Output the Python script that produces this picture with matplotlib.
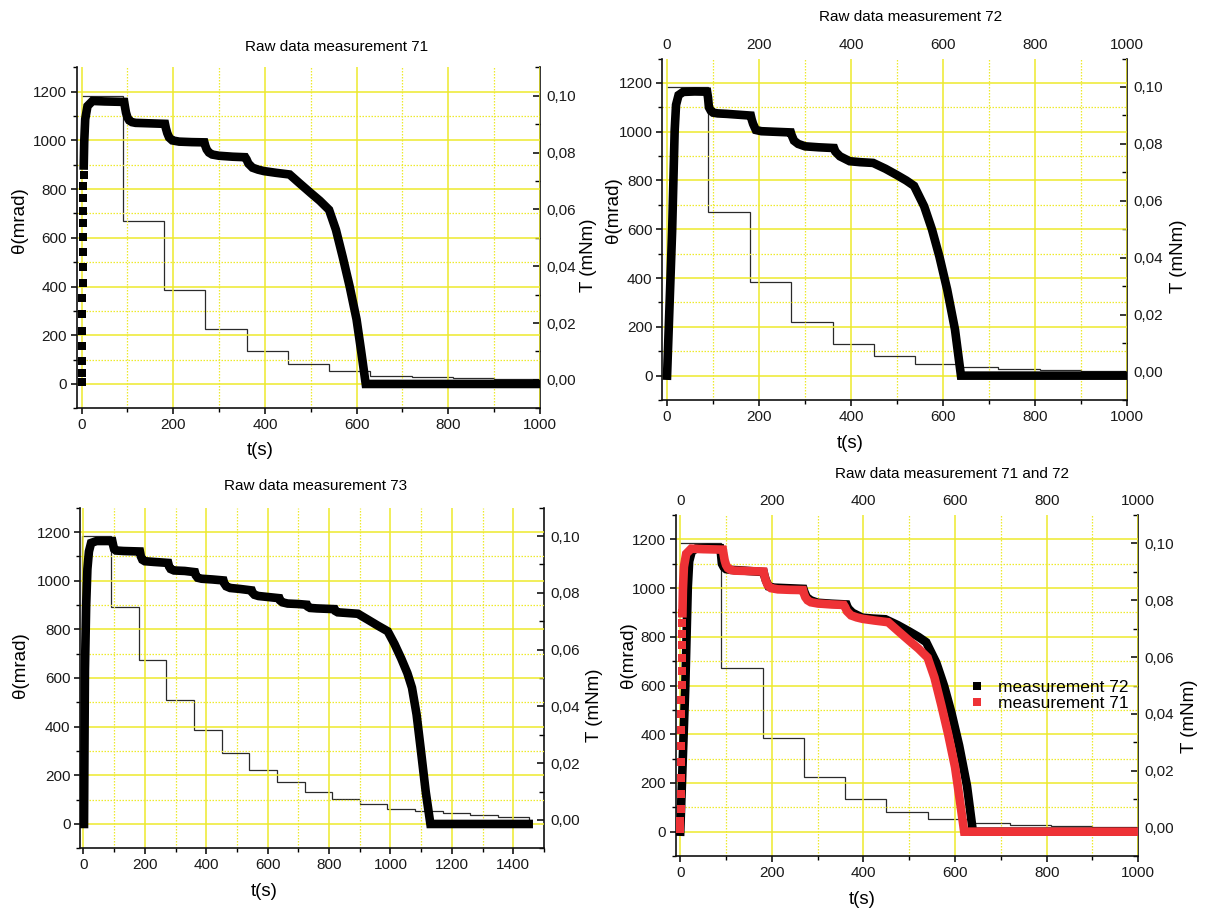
import matplotlib
matplotlib.use("Agg")
import matplotlib.pyplot as plt
from matplotlib.ticker import MultipleLocator, FuncFormatter, NullLocator, FixedLocator
from matplotlib.lines import Line2D

plt.rcParams["font.family"] = ["Liberation Sans", "DejaVu Sans"]

# ---------------- data ----------------
# measurement 71: time (s) and angle (mrad); first 17 samples are the fast rise
t71 = [0.0, 0.3, 0.6, 0.9, 1.2, 1.5, 1.8, 2.1, 2.4, 2.7, 3.0, 3.3, 3.6, 3.9, 4.2, 4.5, 4.8,
       5.8, 8, 13, 24, 50, 93, 95, 97, 100, 104, 110, 118, 150, 182, 184, 187, 191, 198, 213,
       240, 268, 270, 273, 278, 285, 300, 330, 357, 360, 364, 373, 385, 398, 424, 454, 475,
       500, 520, 540, 555, 570, 585, 600, 610, 620, 1000]
theta71 = [10, 44, 95, 154, 219, 287, 352, 416, 482, 542, 604, 660, 712, 765, 811, 858, 897,
           991, 1087, 1141, 1162, 1160, 1158, 1135, 1114, 1095, 1082, 1075, 1072, 1070, 1068,
           1050, 1030, 1012, 1000, 995, 993, 992, 978, 963, 950, 942, 937, 933, 931, 922, 905,
           888, 880, 874, 867, 860, 825, 784, 752, 715, 633, 520, 400, 265, 135, 0, 0]
RISE71 = 17

# measurement 72
t72 = [0, 11, 16.5, 19.5, 25, 35, 60, 87, 89, 91, 95, 100, 110, 130, 182, 184, 187, 193,
       205, 230, 269, 271, 276, 285, 300, 330, 363, 366, 376, 397, 420, 448, 475, 499, 520,
       537, 559, 576, 592, 609, 626, 639, 1000]
theta72 = [0, 593, 1004, 1110, 1150, 1163, 1165, 1164, 1140, 1100, 1086, 1078, 1075, 1073,
           1066, 1050, 1032, 1007, 1002, 1000, 997, 985, 963, 950, 940, 936, 933, 918, 899,
           879, 875, 872, 848, 823, 800, 778, 694, 599, 489, 353, 189, 0, 0]

# measurement 73
t73 = [2, 3.5, 5, 9, 13, 18, 25, 43, 94, 97, 100, 106, 130, 184, 187, 192, 200, 230, 276,
       279, 284, 295, 330, 363, 366, 372, 385, 420, 456, 459, 465, 478, 510, 548, 551, 557,
       570, 600, 638, 641, 648, 665, 700, 728, 731, 738, 760, 818, 821, 828, 850, 894, 926,
       959, 991, 1013, 1035, 1055, 1070, 1085, 1100, 1115, 1130, 1450]
theta73 = [0, 330, 633, 900, 1048, 1120, 1155, 1163, 1163, 1145, 1130, 1124, 1122, 1120,
           1100, 1086, 1080, 1077, 1073, 1058, 1048, 1042, 1040, 1035, 1022, 1012, 1008, 1005,
           1001, 988, 977, 970, 966, 960, 950, 942, 937, 933, 928, 918, 911, 906, 904, 901,
           893, 888, 886, 883, 875, 870, 868, 864, 840, 815, 792, 740, 680, 620, 560, 450,
           292, 130, 0, 0]

# applied torque (mNm): step edges (s) and levels
torque_edges_71 = [0, 90, 180, 270, 360, 450, 540, 630, 720, 810, 900, 1000]
torque_71 = [0.100, 0.056, 0.0316, 0.0178, 0.0100, 0.0056, 0.0030, 0.0015, 0.0009,
             0.0005, 0.0003]
torque_edges_72 = [0, 90, 180, 270, 360, 450, 540, 630, 720, 810, 900, 1000]
torque_72 = [0.100, 0.056, 0.0313, 0.0174, 0.0098, 0.0054, 0.0028, 0.0015, 0.0008,
             0.0004, 0.0002]
torque_edges_73 = [-4, 90, 180, 270, 360, 450, 540, 630, 720, 810, 900, 990, 1080, 1170,
                   1260, 1350, 1450]
torque_73 = [0.100, 0.075, 0.0562, 0.0421, 0.0316, 0.0236, 0.0176, 0.0133, 0.0099, 0.0073,
             0.0056, 0.0040, 0.0031, 0.0024, 0.0018, 0.0012]

titles = ["Raw data measurement 71", "Raw data measurement 72",
          "Raw data measurement 73", "Raw data measurement 71 and 72"]
legend_labels = ["measurement 72", "measurement 71"]

# ---------------- style ----------------
GRID = "#EEEA2C"
TEXT = "#1a1a1a"
RED = "#EE3236"
TICK_FS = 11
LABEL_FS = 13.5
TITLE_FS = 11
LEGEND_FS = 12.5
CURVE_LW = 6.2

fig = plt.figure(figsize=(12.1, 9.1), dpi=100)


def panel(rect, xmax, title_pos, ylab_pos, tlab_pos, xlab_pos, title, top_labels=False):
    ax = fig.add_axes(rect)
    axT = ax.twinx()
    ax.set_zorder(2)
    axT.set_zorder(1)
    ax.patch.set_visible(False)

    ax.set_xlim(-10, xmax)
    ax.set_ylim(-100, 1300)
    axT.set_ylim(-0.01, 0.11)

    # grid drawn from the angle axis
    for v in range(0, xmax + 1, 200):
        ax.axvline(v, color=GRID, lw=1.1, zorder=0)
    for v in range(100, xmax, 200):
        ax.axvline(v, color=GRID, lw=0.9, ls=(0, (1.2, 1.2)), zorder=0)
    for v in range(0, 1201, 200):
        ax.axhline(v, color=GRID, lw=1.1, zorder=0)
    for v in range(100, 1200, 200):
        ax.axhline(v, color=GRID, lw=0.9, ls=(0, (1.2, 1.2)), zorder=0)

    xmajor = list(range(0, xmax + 1, 200))
    ax.xaxis.set_major_locator(FixedLocator(xmajor))
    ax.xaxis.set_minor_locator(MultipleLocator(100))
    ax.set_yticks(range(0, 1201, 200))
    ax.yaxis.set_minor_locator(MultipleLocator(100))
    axT.set_yticks([0, 0.02, 0.04, 0.06, 0.08, 0.10])
    axT.yaxis.set_minor_locator(MultipleLocator(0.01))
    axT.yaxis.set_major_formatter(FuncFormatter(lambda v, p: f"{v:.2f}".replace(".", ",")))

    for s in ("top", "right"):
        ax.spines[s].set_visible(False)
    for s in ("top", "bottom", "left"):
        axT.spines[s].set_visible(False)
    for sp in (ax.spines["left"], ax.spines["bottom"], axT.spines["right"]):
        sp.set_linewidth(1.2)
        sp.set_color("#111111")

    ax.tick_params(axis="both", which="major", direction="out", length=4.5, width=1.1,
                   labelsize=TICK_FS, labelcolor=TEXT, pad=2.6, right=False, top=False)
    ax.tick_params(axis="both", which="minor", direction="out", length=3, width=1.0,
                   right=False, top=False)
    axT.tick_params(axis="y", which="major", direction="in", length=5.2, width=1.1,
                    labelsize=TICK_FS, labelcolor=TEXT, pad=4.6)
    axT.tick_params(axis="y", which="minor", direction="in", length=3.4, width=1.0)

    if top_labels:
        top = ax.secondary_xaxis("top")
        for sp in top.spines.values():
            sp.set_visible(False)
        top.xaxis.set_major_locator(FixedLocator(xmajor))
        top.xaxis.set_minor_locator(NullLocator())
        top.tick_params(axis="x", length=0, labelsize=TICK_FS, labelcolor=TEXT, pad=5.0)

    ax.set_ylabel("θ(mrad)", fontsize=LABEL_FS)
    ax.yaxis.set_label_coords(*ylab_pos)
    ax.yaxis.label.set_va("center")
    ax.set_xlabel("t(s)", fontsize=LABEL_FS)
    ax.xaxis.set_label_coords(*xlab_pos)
    ax.xaxis.label.set_va("center")
    axT.set_ylabel("T (mNm)", fontsize=LABEL_FS)
    axT.yaxis.set_label_coords(*tlab_pos)
    axT.yaxis.label.set_va("center")
    ax.text(*title_pos, title, transform=ax.transAxes, ha="center", va="center",
            fontsize=TITLE_FS)
    return ax, axT


def curve(ax, t, th, color, rise=0):
    if rise:
        ax.plot(t[:rise], th[:rise], ls="none", marker="s", ms=5.8, mew=0, color=color,
                zorder=3)
        t, th = t[rise - 1:], th[rise - 1:]
    ax.plot(t, th, color=color, lw=CURVE_LW, solid_joinstyle="miter",
            solid_capstyle="projecting", zorder=3)


def torque(axT, edges, values, baseline=None):
    axT.stairs(values, edges, baseline=baseline, color="#2a2a2a", lw=0.9)


# top-left: measurement 71
ax1, ax1T = panel([0.0636, 0.5513, 0.3826, 0.3747], 1000, (0.5616, 1.060),
                  (-0.125, 0.552), (1.106, 0.45), (0.396, -0.124), titles[0])
torque(ax1T, torque_edges_71, torque_71)
curve(ax1, t71, theta71, "black", rise=RISE71)

# top-right: measurement 72
ax2, ax2T = panel([0.5475, 0.5604, 0.3839, 0.3753], 1000, (0.535, 1.1206),
                  (-0.105, 0.556), (1.11, 0.42), (0.404, -0.126), titles[1],
                  top_labels=True)
torque(ax2T, torque_edges_72, torque_72)
curve(ax2, t72, theta72, "black")

# bottom-left: measurement 73
ax3, ax3T = panel([0.0664, 0.0678, 0.3832, 0.3743], 1500, (0.508, 1.0637),
                  (-0.128, 0.538), (1.108, 0.42), (0.396, -0.127), titles[2])
torque(ax3T, torque_edges_73, torque_73, baseline=0)
curve(ax3, t73, theta73, "black")

# bottom-right: measurements 71 and 72 together
ax4, ax4T = panel([0.5584, 0.0593, 0.3823, 0.3747], 1000, (0.597, 1.120),
                  (-0.101, 0.589), (1.11, 0.41), (0.404, -0.126), titles[3],
                  top_labels=True)
torque(ax4T, torque_edges_71, torque_71)
curve(ax4, t72, theta72, "black")
curve(ax4, t71, theta71, RED, rise=RISE71)
handles = [Line2D([], [], ls="none", marker="s", ms=5.8, mew=0, color="black"),
           Line2D([], [], ls="none", marker="s", ms=5.8, mew=0, color=RED)]
ax4.legend(handles, legend_labels, loc="center left", bbox_to_anchor=(0.6353, 0.47),
           frameon=False, fontsize=LEGEND_FS, handlelength=0.9, handletextpad=0.75,
           borderpad=0, borderaxespad=0, labelspacing=0.05)

fig.savefig("out.png", dpi=100, facecolor="white")
